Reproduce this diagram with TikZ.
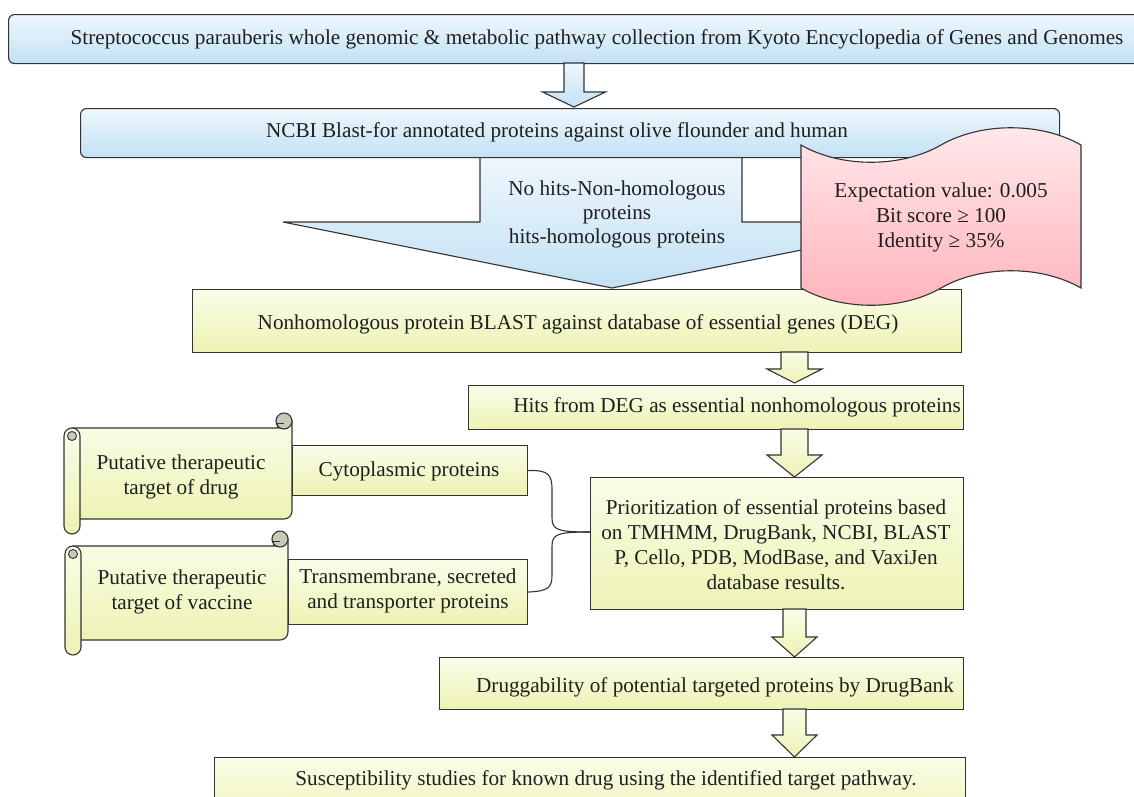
\documentclass[tikz,border=0pt]{standalone}
\usepackage{fontspec}
\setmainfont{Liberation Serif}
\usetikzlibrary{calc}
\definecolor{bTop}{HTML}{EEF7FD}
\definecolor{bBot}{HTML}{C2E1F4}
\definecolor{yTop}{HTML}{FAFCE8}
\definecolor{yBot}{HTML}{EDF3B4}
\definecolor{pTop}{HTML}{FFE9EC}
\definecolor{pBot}{HTML}{FFB3BA}
\definecolor{curlc}{HTML}{C7CAB6}
\definecolor{edgec}{HTML}{333333}
\tikzset{
 outl/.style={draw=edgec, line width=1.1pt},
 bluebox/.style={outl, rounded corners=6pt, top color=bTop, bottom color=bBot, inner sep=0pt, anchor=north west},
 ybox/.style={outl, top color=yTop, bottom color=yBot, inner sep=0pt, anchor=north west},
 txt/.style={font=\fontsize{21.2}{25}\selectfont, align=center, inner sep=0pt, text=black!88},
 yarrow/.style={outl, top color=yTop, bottom color=yBot},
 barrow/.style={outl, top color=bTop, bottom color=bBot},
 conn/.style={draw=edgec, line width=1.1pt},
}
% block arrow: cx, top, head start, tip, shaft half width, head half width, style
\newcommand{\blkarrow}[7]{\draw[#7] ({#1-#5},#2) -- ({#1+#5},#2) -- ({#1+#5},#3) -- ({#1+#6},#3) -- (#1,#4) -- ({#1-#6},#3) -- ({#1-#5},#3) -- cycle;}
% horizontal scroll: L, T, R, B
\newcommand{\scrollshp}[4]{%
 \draw[outl, top color=yTop, bottom color=yBot] ({#1+8},{#2+15}) -- ({#3-8},{#2+15}) -- ({#3-8},{#2+8}) -- (#3,{#2+8}) -- (#3,{#4-23}) arc[start angle=0,end angle=90,radius=8] -- ({#1+8},{#4-15}) -- cycle;
 \draw[outl, fill=curlc] ({#3-8},{#2+8}) circle[radius=8];
 \draw[draw=edgec, line width=0.9pt] ({#3-15},{#2+15}) -- ({#3-15},{#2+10}) -- ({#3-8},{#2+10});
 \draw[outl, top color=yTop, bottom color=yBot] (#1,{#2+23}) arc[start angle=180,end angle=360,radius=8] -- ({#1+16},{#4-8}) arc[start angle=0,end angle=180,radius=8] -- cycle;
 \draw[draw=edgec, line width=0.9pt, fill=curlc] ({#1+8},{#2+23}) circle[radius=4.5];
}
\begin{document}
\begin{tikzpicture}[x=1pt,y=-1pt]
\useasboundingbox (0,0) rectangle (1134,796);
% top box
\node[bluebox, minimum width=1150pt, minimum height=49pt] (b1) at (8,14) {};
\node[txt] (t1) at (597,39) {Streptococcus parauberis whole genomic \& metabolic pathway collection from Kyoto Encyclopedia of Genes and Genomes};
\blkarrow{574}{63}{92}{107}{10}{31.5}{barrow}
% big arrow
\draw[barrow] (480,157) -- (742,157) -- (742,222) -- (941,222) -- (612,288) -- (283,222) -- (480,222) -- cycle;
\node[txt, font=\fontsize{21.2}{24}\selectfont] (t2b) at (617,214) {No hits-Non-homologous\\proteins\\hits-homologous proteins};
% second box
\node[bluebox, minimum width=979pt, minimum height=49pt] (b2) at (80,108) {};
\node[txt] (t2) at (557,132) {NCBI Blast-for annotated proteins against olive flounder and human};
% third box
\node[ybox, minimum width=769pt, minimum height=63pt] (b3) at (192,289) {};
\node[txt] (t3) at (578,324) {Nonhomologous protein BLAST against database of essential genes (DEG)};
% criteria document
\draw[outl, top color=pTop, bottom color=pBot] (801,145) .. controls (841,168) and (901,168) .. (941,145) .. controls (981,122) and (1041,122) .. (1081,145) -- (1081,288) .. controls (1041,265) and (981,265) .. (941,288) .. controls (901,311) and (841,311) .. (801,288) -- cycle;
\node[txt] (tc) at (941,217) {Expectation value: 0.005\\Bit score ≥ 100\\Identity ≥ 35\%};
% hits box
\blkarrow{794.5}{352}{369}{383}{13.5}{27.5}{yarrow}
\node[ybox, minimum width=495pt, minimum height=44pt] (hits) at (468,385) {};
\node[txt] (th) at (737,407) {Hits from DEG as essential nonhomologous proteins};
% prioritization
\blkarrow{794.5}{429}{455}{477}{13.5}{27.5}{yarrow}
\node[ybox, minimum width=373pt, minimum height=132pt] (prio) at (590,477) {};
\node[txt] (tp) at (776,545) {Prioritization of essential proteins based\\on TMHMM, DrugBank, NCBI, BLAST\\P, Cello, PDB, ModBase, and VaxiJen\\database results.};
% druggability
\blkarrow{794.5}{609}{637}{657}{11.5}{22.5}{yarrow}
\node[ybox, minimum width=524pt, minimum height=52pt] (drug) at (439,657) {};
\node[txt] (td) at (715,687) {Druggability of potential targeted proteins by DrugBank};
% susceptibility
\blkarrow{794.5}{709}{735}{757}{11.5}{22.5}{yarrow}
\node[ybox, minimum width=751pt, minimum height=70pt] (susc) at (214,757) {};
\node[txt] (ts) at (606,780) {Susceptibility studies for known drug using the identified target pathway.};
% scrolls and side boxes
\scrollshp{64}{413}{292}{534}
\node[txt] (s1) at (181,477) {Putative therapeutic\\target of drug};
\node[ybox, minimum width=235pt, minimum height=50pt] (cyto) at (292,445) {};
\node[txt] (tcy) at (409,471) {Cytoplasmic proteins};
\scrollshp{65}{531}{288}{655}
\node[txt] (s2) at (182,592) {Putative therapeutic\\target of vaccine};
\node[ybox, minimum width=239pt, minimum height=65pt] (trans) at (288,559) {};
\node[txt] (ttr) at (408,591) {Transmembrane, secreted\\and transporter proteins};
% bracket connector
\coordinate (pj) at (590,532);
\draw[conn] (cyto.east) .. controls (548,470) and (552,474) .. (552,490) -- (552,518) .. controls (552,530) and (558,532) .. (pj);
\draw[conn] (trans.east) .. controls (548,591) and (552,588) .. (552,575) -- (552,546) .. controls (552,534) and (558,532) .. (pj);
\end{tikzpicture}
\end{document}
